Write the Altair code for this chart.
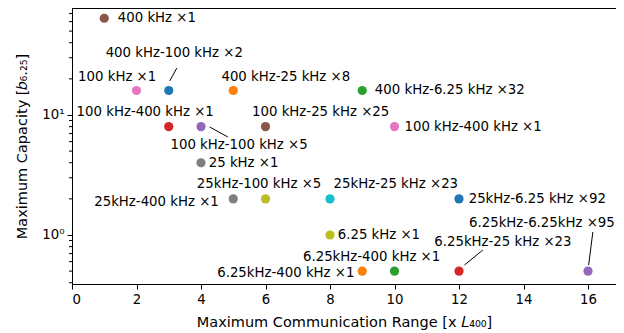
import altair as alt
import pandas as pd

# Data points (Maximum Communication Range, Maximum Capacity)
ranges = [1, 2, 3, 5, 9, 3, 4, 6, 10, 4, 5, 6, 8, 12, 8, 9, 10, 12, 16]
capacity = [64, 16, 16, 16, 16, 8, 8, 8, 8, 4, 2, 2, 2, 2, 1, 0.5, 0.5, 0.5, 0.5]
labels = [
    "400 kHz ×1", "100 kHz ×1", "400 kHz-100 kHz ×2", "400 kHz-25 kHz ×8",
    "400 kHz-6.25 kHz ×32", "100 kHz-400 kHz ×1", "100 kHz-100 kHz ×5",
    "100 kHz-25 kHz ×25", "100 kHz-400 kHz ×1", "25 kHz ×1",
    "25kHz-400 kHz ×1", "25kHz-100 kHz ×5", "25kHz-25 kHz ×23",
    "25kHz-6.25 kHz ×92", "6.25 kHz ×1", "6.25kHz-400 kHz ×1",
    "6.25kHz-400 kHz ×1", "6.25kHz-25 kHz ×23", "6.25kHz-6.25kHz ×95",
]
colors = [
    "#8c564b", "#e377c2", "#1f77b4", "#ff7f0e", "#2ca02c", "#d62728",
    "#9467bd", "#8c564b", "#e377c2", "#7f7f7f", "#7f7f7f", "#bcbd22",
    "#17becf", "#1f77b4", "#bcbd22", "#ff7f0e", "#2ca02c", "#d62728",
    "#9467bd",
]
# Annotation text anchors (data units)
label_x = [1.42, 1.40, 3.17, 6.63, 9.39, 2.27, 5.18, 7.71, 10.31, 4.24,
           2.62, 5.80, 10.04, 12.30, 8.24, 6.63, 9.29, 13.36, 14.57]
label_y = [64, 20.7, 32.9, 20.7, 16, 10.6, 5.62, 10.6, 8, 4,
           1.88, 2.66, 2.66, 2, 1, 0.482, 0.656, 0.875, 1.259]
label_align = ["left", "center", "center", "center", "left", "center", "center",
               "center", "left", "left", "center", "center", "center", "left",
               "left", "center", "center", "center", "center"]
# Annotation connector lines (data units)
conn_id = [0, 0, 1, 1, 2, 2, 3, 3]
conn_x = [3.03, 3.25, 4.27, 4.83, 12.17, 12.74, 16.02, 16.15]
conn_y = [19.2, 24.6, 7.94, 6.56, 0.562, 0.75, 0.562, 1.059]

minor_ticks = [0.4, 0.5, 0.6, 0.7, 0.8, 0.9, 2, 3, 4, 5, 6, 7, 8, 9,
               20, 30, 40, 50, 60, 70]

pts = pd.DataFrame({"x": ranges, "y": capacity, "color": colors})
lbl = pd.DataFrame({"lx": label_x, "ly": label_y, "text": labels, "align": label_align})
conn = pd.DataFrame({"id": conn_id, "x": conn_x, "y": conn_y})
minor = pd.DataFrame({"y": minor_ticks})

FONT = "DejaVu Sans"
FS = 13.3
xscale = alt.Scale(domain=[0, 16.868], nice=False, zero=False)
yscale = alt.Scale(type="log", domain=[0.3905, 77.9], nice=False)

xaxis = alt.Axis(values=list(range(0, 17, 2)), format="d", grid=False,
                 title="Maximum Communication Range [x 𝐿₄₀₀]", tickSize=5,
                 labelPadding=3, titlePadding=10, labelFontSize=FS, titleFontSize=14.5,
                 labelFont=FONT, titleFont=FONT, titleFontWeight="normal")
yaxis = alt.Axis(values=[1, 10], grid=False, tickSize=5,
                 labelExpr="datum.value == 1 ? '10⁰' : '10¹'",
                 title="Maximum Capacity [𝑏₆.₂₅]", labelPadding=3, titlePadding=12,
                 labelFontSize=FS, titleFontSize=14.5,
                 labelFont=FONT, titleFont=FONT, titleFontWeight="normal")

points = alt.Chart(pts).mark_circle(size=85, opacity=1).encode(
    x=alt.X("x:Q", scale=xscale, axis=xaxis),
    y=alt.Y("y:Q", scale=yscale, axis=yaxis),
    color=alt.Color("color:N", scale=None),
)

lines = alt.Chart(conn).mark_line(color="black", strokeWidth=1).encode(
    x=alt.X("x:Q", scale=xscale),
    y=alt.Y("y:Q", scale=yscale),
    detail="id:N",
)

minor_rules = alt.Chart(minor).mark_rule(color="black", strokeWidth=1).encode(
    y=alt.Y("y:Q", scale=yscale),
    x=alt.value(0), x2=alt.value(-3),
)

texts = []
for a in ["left", "center", "right"]:
    texts.append(
        alt.Chart(lbl).transform_filter(alt.datum.align == a).mark_text(
            align=a, baseline="middle", font=FONT, fontSize=FS, color="black"
        ).encode(
            x=alt.X("lx:Q", scale=xscale),
            y=alt.Y("ly:Q", scale=yscale),
            text="text:N",
        )
    )

chart = alt.layer(points, lines, *texts, minor_rules).properties(
    width=544, height=276,
    autosize=alt.AutoSizeParams(type="none"),
    padding={"left": 64, "top": 0, "right": 0, "bottom": 49},
).configure_view(stroke="black", strokeWidth=1).configure_axis(
    domainColor="black", tickColor="black", labelColor="black", titleColor="black",
)

chart.save("out.html", embed_options={"renderer": "svg", "actions": False})
